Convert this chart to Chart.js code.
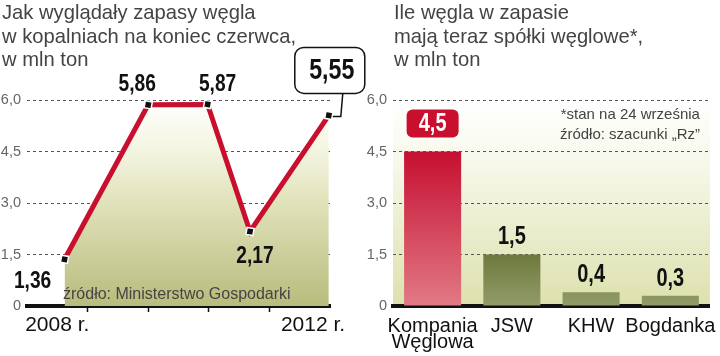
<!DOCTYPE html>
<html><head><meta charset="utf-8">
<script src="https://cdn.jsdelivr.net/npm/chart.js@4"></script>
<style>
html,body{margin:0;padding:0;background:#fff;width:720px;height:356px;overflow:hidden}
#wrap{position:relative;width:720px;height:356px}
canvas{position:absolute;top:0}
#c1{left:0}
#c2{left:360px}
.title{position:absolute;top:1px;font-family:'Liberation Sans',Arial,sans-serif;font-size:20.2px;line-height:23.5px;color:#444;white-space:nowrap}
#t1{left:2px}
#t2{left:394px}
</style>
</head><body>
<div id="wrap">
<canvas id="c1" width="372" height="356"></canvas>
<canvas id="c2" width="360" height="356"></canvas>
<div class="title" id="t1">Jak wyglądały zapasy węgla<br>w kopalniach na koniec czerwca,<br>w mln ton</div>
<div class="title" id="t2">Ile węgla w zapasie<br>mają teraz spółki węglowe*,<br>w mln ton</div>
</div>
<script>
// ---- data ----
const years = [2008.62, 2010.0, 2010.98, 2011.68, 2012.98];
const stocks = [1.36, 5.86, 5.87, 2.17, 5.55];
const stockLabels = ['1,36', '5,86', '5,87', '2,17', '5,55'];
const yTickValues = [0, 1.5, 3, 4.5, 6];
const yTickLabels = ['0', '1,5', '3,0', '4,5', '6,0'];
const xTickValues = [2008.5, 2009, 2010, 2011, 2012, 2012.72];
const xTickLabels = ['2008 r.', '', '', '', '', '2012 r.'];
const companies = [['Kompania', 'Węglowa'], 'JSW', 'KHW', 'Bogdanka'];
const companyStocks = [4.5, 1.5, 0.4, 0.3];
const companyLabels = ['4,5', '1,5', '0,4', '0,3'];
const sourceLeft = 'źródło: Ministerstwo Gospodarki';
const notesRight = ['*stan na 24 września', 'źródło: szacunki „Rz”'];

// ---- styles ----
const F = "'Liberation Sans', Arial, sans-serif";
const RED = '#c8102e';
const labelOffsets = [[-32, 22], [-11, -20], [10, -20], [5, 25], [1, -45]];

function condText(ctx, txt, x, y, size, color, sx) {
  ctx.save();
  ctx.translate(x, y);
  ctx.scale(sx || 0.8, 1);
  ctx.font = 'bold ' + size + 'px ' + F;
  ctx.fillStyle = color;
  ctx.textAlign = 'center';
  ctx.textBaseline = 'middle';
  ctx.fillText(txt, 0, 0);
  ctx.restore();
}

const yScale = (w) => ({
  min: 0, max: 6, z: 1,
  afterBuildTicks: s => { s.ticks = yTickValues.map(v => ({ value: v })); },
  ticks: { callback: (v, i) => yTickLabels[i], font: { size: 14.5, family: F }, color: '#666', padding: 6 },
  grid: { color: '#555', lineWidth: 1, drawTicks: false },
  border: { display: false, dash: [3, 3] },
  afterFit: s => { s.width = w; }
});

const leftLabels = {
  id: 'leftLabels',
  afterDatasetsDraw(chart) {
    const ctx = chart.ctx, a = chart.chartArea;
    const pts = chart.getDatasetMeta(0).data;
    ctx.save();
    ctx.font = '16px ' + F;
    ctx.fillStyle = '#444';
    ctx.textAlign = 'left';
    ctx.textBaseline = 'alphabetic';
    ctx.fillText(sourceLeft, a.left + 36, a.bottom - 7);
    ctx.restore();
    pts.forEach((p, i) => {
      const [dx, dy] = labelOffsets[i];
      if (i === pts.length - 1) {
        const cx = p.x + dx, cy = p.y + dy, w = 70, h = 46;
        ctx.save();
        ctx.strokeStyle = '#111';
        ctx.lineWidth = 1.5;
        ctx.beginPath();
        ctx.moveTo(p.x + 4, p.y + 1);
        ctx.lineTo(p.x + 12, p.y + 1);
        ctx.lineTo(p.x + 14, cy + h / 2);
        ctx.stroke();
        ctx.beginPath();
        ctx.roundRect(cx - w / 2, cy - h / 2, w, h, 9);
        ctx.fillStyle = '#fff';
        ctx.fill();
        ctx.stroke();
        ctx.restore();
        condText(ctx, stockLabels[i], cx + 2, cy + 1, 29, '#111', 0.8);
      } else {
        condText(ctx, stockLabels[i], p.x + dx, p.y + dy, 24, '#111', 0.8);
      }
    });
  }
};

new Chart(document.getElementById('c1'), {
  type: 'line',
  data: {
    datasets: [{
      data: years.map((x, i) => ({ x: x, y: stocks[i] })),
      borderColor: RED,
      borderWidth: 5,
      tension: 0,
      fill: 'origin',
      backgroundColor: (c) => {
        const a = c.chart.chartArea;
        if (!a) return 'rgba(0,0,0,0)';
        const g = c.chart.ctx.createLinearGradient(0, a.top, 0, a.bottom);
        g.addColorStop(0, '#ffffff');
        g.addColorStop(0.25, '#f3f4e0');
        g.addColorStop(0.5, '#e0e2ba');
        g.addColorStop(1, '#b8bc7c');
        return g;
      },
      pointStyle: 'rect',
      pointRadius: 5,
      pointHoverRadius: 5,
      pointBackgroundColor: '#111',
      pointBorderColor: '#fff',
      pointBorderWidth: 1.5,
      pointRotation: 10,
      clip: false
    }]
  },
  options: {
    responsive: false, animation: false, events: [],
    layout: { padding: { top: 100, right: 42, left: 0, bottom: 0 } },
    plugins: { legend: { display: false }, tooltip: { enabled: false } },
    scales: {
      x: {
        type: 'linear', min: 2008, max: 2013,
        afterBuildTicks: s => { s.ticks = xTickValues.map(v => ({ value: v })); },
        ticks: { autoSkip: false, maxRotation: 0, callback: (v, i) => xTickLabels[i], font: { size: 21, family: F }, color: '#111', padding: 1 },
        grid: { drawOnChartArea: false, drawTicks: true, tickLength: 6, tickWidth: 1.5, color: c => (xTickLabels[c.index] === '' ? '#111' : 'rgba(0,0,0,0)') },
        border: { display: true, color: '#111', width: 4 },
        afterFit: s => { s.height = 50; }
      },
      y: yScale(27)
    }
  },
  plugins: [leftLabels]
});

const rightDeco = {
  id: 'rightDeco',
  beforeDraw(chart) {
    const ctx = chart.ctx, a = chart.chartArea;
    const g = ctx.createLinearGradient(0, a.top, 0, a.bottom);
    g.addColorStop(0, '#ffffff');
    g.addColorStop(0.3, '#f7f8ea');
    g.addColorStop(1, '#dde1ad');
    ctx.save();
    ctx.fillStyle = g;
    ctx.fillRect(a.left, a.top, a.right - a.left, a.bottom - a.top);
    ctx.restore();
  },
  afterDraw(chart) {
    const ctx = chart.ctx, a = chart.chartArea;
    ctx.save();
    ctx.font = '15px ' + F;
    ctx.fillStyle = '#444';
    ctx.textAlign = 'right';
    ctx.textBaseline = 'middle';
    notesRight.forEach((t, i) => ctx.fillText(t, a.right - 10, a.top + 15 + i * 20));
    ctx.restore();
    const bars = chart.getDatasetMeta(0).data;
    bars.forEach((b, i) => {
      if (i === 0) {
        ctx.save();
        ctx.fillStyle = RED;
        ctx.beginPath();
        ctx.roundRect(b.x - 26, b.y - 42, 52, 28, 6);
        ctx.fill();
        ctx.restore();
        condText(ctx, companyLabels[i], b.x, b.y - 27, 25, '#fff', 0.8);
      } else {
        condText(ctx, companyLabels[i], b.x, b.y - 17, 25, '#111', 0.8);
      }
    });
  }
};

new Chart(document.getElementById('c2'), {
  type: 'bar',
  data: {
    labels: companies,
    datasets: [{
      data: companyStocks,
      categoryPercentage: 0.8,
      barPercentage: 0.9,
      borderWidth: 0,
      backgroundColor: (c) => {
        const a = c.chart.chartArea;
        if (!a) return RED;
        const g = c.chart.ctx.createLinearGradient(0, a.top + 50, 0, a.bottom);
        if (c.dataIndex === 0) {
          g.addColorStop(0, '#c50e30');
          g.addColorStop(1, '#e27a85');
        } else {
          g.addColorStop(0.45, '#56621f');
          g.addColorStop(1, '#929c6a');
        }
        return g;
      }
    }]
  },
  options: {
    responsive: false, animation: false, events: [],
    layout: { padding: { top: 100, right: 5, left: 0, bottom: 0 } },
    plugins: { legend: { display: false }, tooltip: { enabled: false } },
    scales: {
      x: {
        grid: { display: false },
        border: { display: true, color: '#111', width: 4 },
        ticks: { autoSkip: false, maxRotation: 0, font: { size: 20, family: F, lineHeight: 0.8 }, color: '#111', padding: 4 },
        afterFit: s => { s.height = 50; }
      },
      y: yScale(33)
    }
  },
  plugins: [rightDeco]
});
</script>
</body></html>
